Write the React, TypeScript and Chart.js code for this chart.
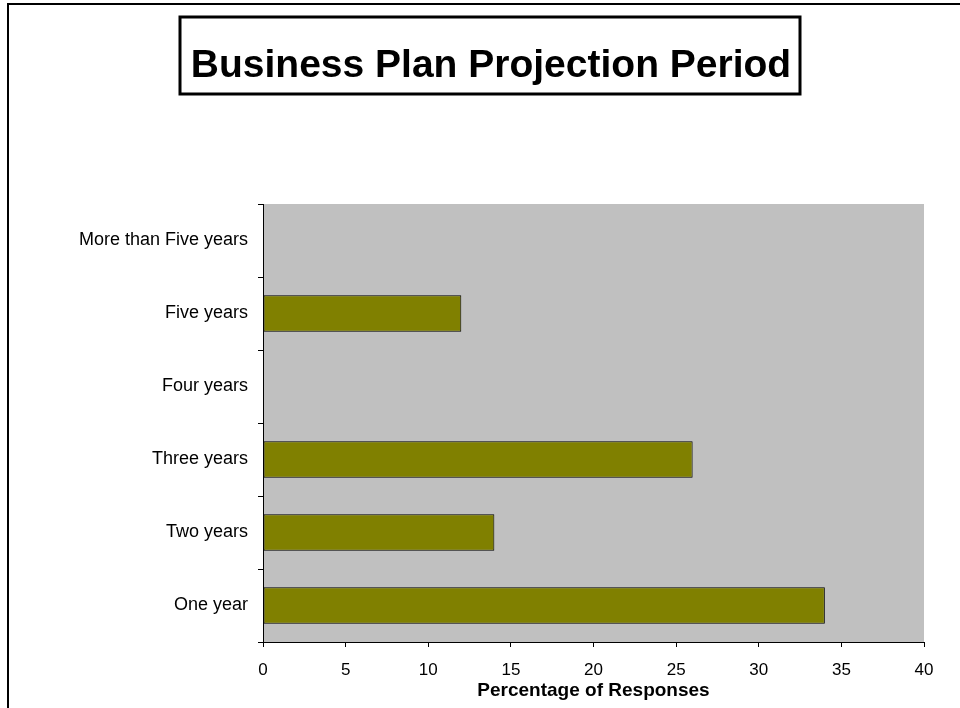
import React, { useEffect, useRef } from "react";
import { Chart, registerables } from "chart.js";

Chart.register(...registerables);

const titleText = "Business Plan Projection Period";
const xAxisTitle = "Percentage of Responses";
const categories = ["One year", "Two years", "Three years", "Four years", "Five years", "More than Five years"];
const responses = [34, 14, 26, 0, 12, 0];
const xMin = 0;
const xMax = 40;
const xStep = 5;

const framePlugin = {
  id: "framePlugin",
  beforeDraw(chart: any) {
    const { ctx, chartArea } = chart;
    ctx.save();
    ctx.fillStyle = "#ffffff";
    ctx.fillRect(0, 0, chart.width, chart.height);
    ctx.fillStyle = "#C0C0C0";
    ctx.fillRect(chartArea.left, chartArea.top, chartArea.right - chartArea.left, chartArea.bottom - chartArea.top);
    ctx.restore();
  },
  afterDraw(chart: any) {
    const { ctx } = chart;
    ctx.save();
    // outer frame
    ctx.strokeStyle = "#000";
    ctx.lineWidth = 2;
    ctx.strokeRect(8, 4, chart.width + 20, chart.height + 20);
    // title box
    ctx.lineWidth = 3;
    ctx.strokeRect(180, 17, 620, 77);
    ctx.fillStyle = "#000";
    ctx.font = "bold 39px 'Liberation Sans', Arial, sans-serif";
    ctx.textAlign = "center";
    ctx.textBaseline = "alphabetic";
    ctx.fillText(titleText, 491, 77);
    ctx.restore();
  },
};

export default function App() {
  const ref = useRef<HTMLCanvasElement>(null);
  useEffect(() => {
    if (!ref.current) return;
    const chart = new Chart(ref.current, {
      type: "bar",
      data: {
        labels: categories,
        datasets: [
          {
            data: responses,
            backgroundColor: "#808000",
            borderColor: "#000000",
            borderWidth: 1,
            borderSkipped: false,
            barPercentage: 0.5,
            categoryPercentage: 1,
          },
        ],
      },
      options: {
        indexAxis: "y",
        animation: false,
        responsive: false,
        maintainAspectRatio: false,
        layout: { padding: { top: 204, right: 36, left: 0, bottom: 0 } },
        plugins: {
          legend: { display: false },
          title: { display: false },
          tooltip: { enabled: false },
        },
        scales: {
          x: {
            type: "linear",
            min: xMin,
            max: xMax,
            ticks: {
              stepSize: xStep,
              color: "#000",
              padding: 13,
              font: { family: "'Liberation Sans', Arial, sans-serif", size: 17 },
            },
            grid: {
              display: true,
              drawOnChartArea: false,
              drawTicks: true,
              tickLength: 5,
              color: "#000",
            },
            border: { display: true, color: "#000", width: 1 },
            title: {
              display: true,
              text: xAxisTitle,
              color: "#000",
              padding: { top: 0, bottom: 6 },
              font: { family: "'Liberation Sans', Arial, sans-serif", size: 19, weight: "bold" },
            },
            afterFit(scale: any) {
              scale.height = 66;
            },
          },
          y: {
            type: "category",
            reverse: true,
            offset: true,
            ticks: {
              color: "#000",
              padding: 10,
              font: { family: "'Liberation Sans', Arial, sans-serif", size: 18 },
            },
            grid: {
              display: true,
              offset: true,
              drawOnChartArea: false,
              drawTicks: true,
              tickLength: 5,
              color: "#000",
            },
            border: { display: true, color: "#000", width: 1 },
            afterFit(scale: any) {
              scale.width = 263;
            },
          },
        },
      },
      plugins: [framePlugin],
    });
    return () => chart.destroy();
  }, []);
  return (
    <div style={{ position: "absolute", left: 0, top: 0, width: 960, height: 708 }}>
      <canvas ref={ref} width={960} height={708} style={{ display: "block", width: 960, height: 708 }} />
    </div>
  );
}
